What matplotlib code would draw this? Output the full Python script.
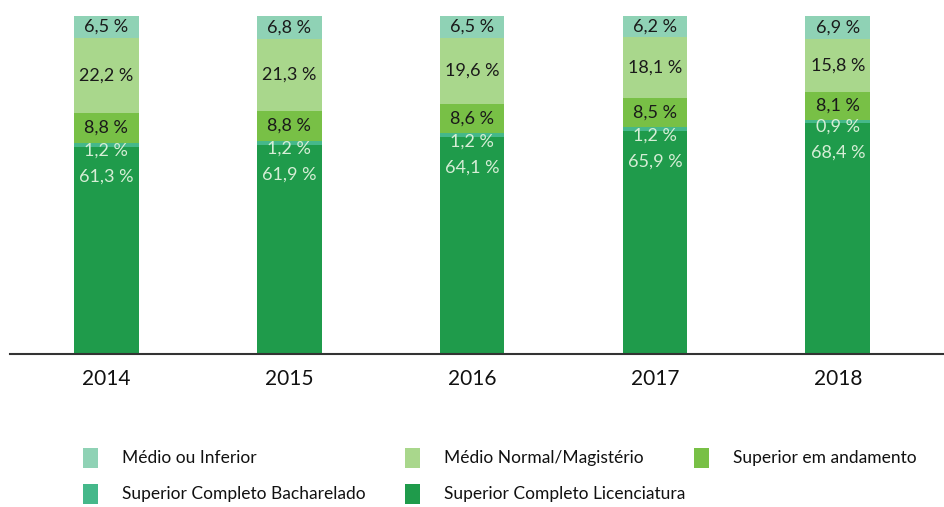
import matplotlib
matplotlib.use("Agg")
import matplotlib.pyplot as plt
from matplotlib.patches import Rectangle

plt.rcParams['font.family'] = ['Lato', 'DejaVu Sans']

years = ["2014", "2015", "2016", "2017", "2018"]
licenciatura = [61.3, 61.9, 64.1, 65.9, 68.4]
bacharelado = [1.2, 1.2, 1.2, 1.2, 0.9]
andamento = [8.8, 8.8, 8.6, 8.5, 8.1]
magisterio = [22.2, 21.3, 19.6, 18.1, 15.8]
medio = [6.5, 6.8, 6.5, 6.2, 6.9]

names = ["Superior Completo Licenciatura", "Superior Completo Bacharelado",
         "Superior em andamento", "Médio Normal/Magistério", "Médio ou Inferior"]
colors = ["#1f9b4b", "#45b88a", "#78c046", "#a9d78c", "#8fd2b5"]
series = [licenciatura, bacharelado, andamento, magisterio, medio]

fig = plt.figure(figsize=(9.45, 5.07), dpi=100)
ax = fig.add_axes([10/945, 1 - 354/507, 1 - 10/945, (354 - 16)/507])

x = list(range(len(years)))
bottoms = [0.0] * len(years)
for s, c in zip(series, colors):
    ax.bar(x, s, bottom=bottoms, width=0.355, color=c, edgecolor='none')
    bottoms = [b + v for b, v in zip(bottoms, s)]

def fmt(v):
    return f"{v:.1f}".replace(".", ",") + " %"

light = "#d6eed6"
dark = "#1a1a1a"
fs = 13
for i in x:
    lic = licenciatura[i]
    ax.text(i, lic - 8.9, fmt(lic), ha='center', va='center', fontsize=fs, color=light)
    ax.text(i, lic - 1.2, fmt(bacharelado[i]), ha='center', va='center', fontsize=fs, color=light)
    b = lic + bacharelado[i]
    ax.text(i, b + andamento[i] / 2, fmt(andamento[i]), ha='center', va='center', fontsize=fs, color=dark)
    b += andamento[i]
    ax.text(i, b + magisterio[i] / 2, fmt(magisterio[i]), ha='center', va='center', fontsize=fs, color=dark)
    b += magisterio[i]
    ax.text(i, b + medio[i] / 2, fmt(medio[i]), ha='center', va='center', fontsize=fs, color=dark)

ax.set_xlim(-0.525, 4.585)
ax.set_ylim(0, 100)
for sp in ['top', 'right', 'left']:
    ax.spines[sp].set_visible(False)
ax.spines['bottom'].set_color('#333333')
ax.spines['bottom'].set_linewidth(1.5)
ax.set_yticks([])
ax.set_xticks(x)
ax.set_xticklabels(years, fontsize=15, color='#111111')
ax.tick_params(axis='x', length=0, pad=11)

# legend
leg_items = [("Médio ou Inferior", colors[4], 83, 458),
             ("Médio Normal/Magistério", colors[3], 405, 458),
             ("Superior em andamento", colors[2], 694, 458),
             ("Superior Completo Bacharelado", colors[1], 83, 494),
             ("Superior Completo Licenciatura", colors[0], 405, 494)]
W, H = 945, 507
for label, c, px, py in leg_items:
    fig.add_artist(Rectangle((px / W, 1 - (py + 10) / H), 15 / W, 20 / H,
                             transform=fig.transFigure, color=c, linewidth=0))
    fig.text((px + 39) / W, 1 - py / H, label, ha='left', va='center', fontsize=12.5, color='#111111')

fig.savefig("out.png", dpi=100)
